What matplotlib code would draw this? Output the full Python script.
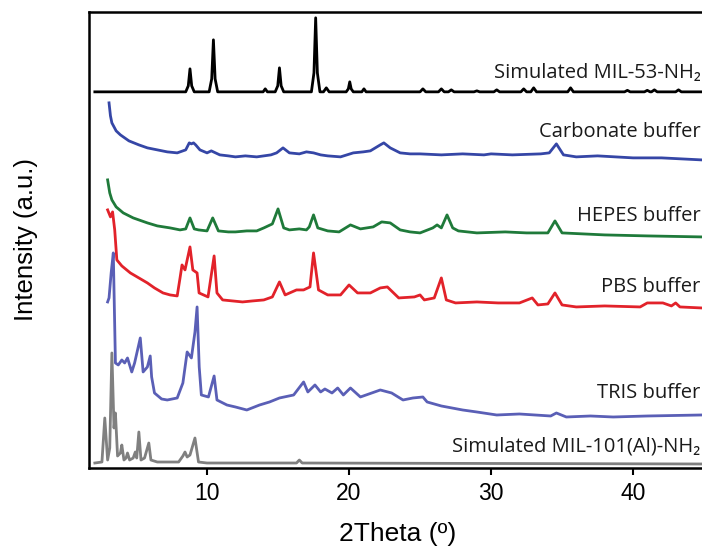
import matplotlib
matplotlib.use('Agg')
import matplotlib.pyplot as plt

# Values (2Theta in degrees, intensity in arbitrary units).
# Simulated MIL-53-NH2 (black)
mil53_x = [2.1, 8.5, 8.68, 8.8, 8.92, 9.1, 10.15, 10.33, 10.45, 10.57, 10.75, 13.95, 14.1, 14.25,
           14.8, 14.98, 15.1, 15.22, 15.4, 17.35, 17.53, 17.65, 17.77, 17.95, 18.2, 18.4, 18.6,
           19.8, 19.95, 20.05, 20.15, 20.3, 20.9, 21.05, 21.2, 25.0, 25.2, 25.4, 26.3, 26.5, 26.7,
           27.0, 27.2, 27.4, 28.8, 29.0, 29.2, 30.2, 30.4, 30.6, 32.1, 32.3, 32.5, 32.8, 33.0, 33.2,
           35.4, 35.6, 35.8, 39.4, 39.6, 39.8, 40.8, 41.0, 41.2, 41.3, 41.5, 41.7, 43.0, 43.2, 43.4, 45.5]
mil53_y = [376, 376, 382, 399, 382, 376, 376, 389, 428, 389, 376, 376, 379, 376,
           376, 382, 400, 382, 376, 376, 395, 450, 395, 376, 376, 380, 376,
           376, 379, 386, 379, 376, 376, 379, 376, 376, 379, 376, 376, 379, 376,
           376, 378, 376, 376, 377, 376, 376, 378, 376, 376, 379, 376, 376, 380, 376,
           376, 380, 376, 376, 377.5, 376, 376, 377.5, 376, 376, 378, 376, 376, 378, 376, 376]

# Carbonate buffer (dark blue)
carb_x = [3.1, 3.2, 3.3, 3.6, 3.9, 4.5, 5.2, 5.8, 6.5, 7.2, 7.9, 8.5, 8.75, 8.9, 9.05, 9.2, 9.5,
          10.0, 10.3, 10.6, 10.9, 11.5, 12.0, 12.7, 13.5, 14.0, 14.5, 14.9, 15.35, 15.8, 16.5,
          17.0, 17.5, 18.0, 18.5, 19.4, 20.3, 21.0, 21.5, 22.2, 22.45, 22.9, 23.6, 24.3, 25.0,
          26.5, 28.0, 29.5, 30.0, 31.5, 33.5, 34.1, 34.6, 35.1, 36.0, 37.5, 40.0, 42.0, 44.8]
carb_y = [365, 352, 345, 337, 333, 327, 323, 320, 318, 316, 315, 318, 325, 324, 325, 323, 318,
          315, 317, 315, 313, 312, 311, 312, 311, 312, 313, 315, 320, 315, 314,
          316, 315, 313, 312, 311, 315, 316, 317, 323, 325, 320, 315, 314, 314,
          313, 314, 313, 314, 313, 314, 315, 324, 313, 311, 312, 310, 310, 308]

# HEPES buffer (green)
hepes_x = [3.0, 3.15, 3.3, 3.6, 4.1, 4.8, 5.8, 6.5, 7.4, 8.1, 8.5, 8.8, 9.1, 9.4, 10.0, 10.4,
           10.8, 11.5, 12.0, 12.8, 13.5, 14.0, 14.6, 15.0, 15.4, 15.8, 16.5, 17.0, 17.2, 17.5,
           17.8, 18.5, 19.3, 20.1, 20.8, 21.7, 22.3, 22.9, 23.6, 24.3, 25.0, 25.9, 26.2, 26.5,
           26.9, 27.3, 27.7, 29.0, 31.0, 32.5, 34.0, 34.5, 35.0, 36.5, 38.0, 41.0, 44.8]
hepes_y = [288, 275, 268, 261, 255, 250, 245, 242, 240, 238, 239, 250, 239, 238, 237, 250,
           237, 236, 236, 237, 237, 240, 244, 259, 240, 238, 239, 238, 241, 253,
           240, 237, 236, 243, 239, 241, 246, 245, 238, 236, 235, 240, 243, 240,
           253, 240, 237, 235, 236, 235, 235, 247, 235, 234, 233, 232, 231]

# PBS buffer (red)
pbs_x = [3.0, 3.2, 3.35, 3.5, 3.65, 4.0, 4.6, 5.2, 5.8, 6.3, 6.9, 7.4, 7.9, 8.1, 8.24, 8.45,
         8.8, 9.0, 9.3, 9.44, 10.07, 10.5, 10.7, 11.1, 11.8, 12.5, 13.2, 14.0, 14.6, 15.1, 15.5,
         16.3, 16.8, 17.25, 17.5, 17.85, 18.5, 19.4, 20.0, 20.6, 21.5, 22.2, 22.7, 23.5, 24.6,
         25.0, 25.3, 26.0, 26.5, 26.85, 27.5, 29.0, 30.5, 32.0, 32.9, 33.3, 34.0, 34.5, 35.0,
         36.0, 38.0, 40.5, 41.0, 42.1, 42.7, 43.0, 43.3, 44.8]
pbs_y = [258, 251, 256, 238, 208, 202, 195, 190, 185, 180, 175, 173, 172, 190, 203, 198,
         221, 198, 195, 175, 171, 212, 175, 168, 167, 166, 167, 168, 171, 186, 173,
         178, 178, 181, 215, 178, 173, 173, 183, 175, 175, 180, 181, 170, 171,
         173, 168, 170, 190, 168, 165, 166, 165, 165, 170, 163, 164, 175, 163,
         161, 162, 161, 165, 165, 162, 165, 161, 160]

# TRIS buffer (violet blue)
tris_x = [3.0, 3.1, 3.25, 3.4, 3.55, 3.75, 4.0, 4.2, 4.4, 4.7, 4.9, 5.3, 5.5, 5.8, 6.0, 6.1,
          6.3, 6.8, 7.2, 7.9, 8.3, 8.6, 8.9, 9.15, 9.3, 9.45, 9.6, 10.1, 10.5, 10.7, 11.4, 12.0,
          12.8, 13.7, 14.4, 15.1, 16.1, 16.8, 17.1, 17.6, 18.0, 18.3, 18.8, 19.2, 19.6, 20.1,
          20.8, 21.8, 22.2, 23.0, 23.8, 24.5, 25.2, 25.5, 26.5, 28.0, 29.0, 30.4, 32.0, 34.2,
          34.6, 35.3, 37.0, 38.6, 41.0, 44.8]
tris_y = [166, 170, 195, 215, 105, 103, 108, 105, 110, 96, 105, 130, 96, 101, 112, 91,
          75, 69, 68, 70, 85, 116, 110, 136, 161, 101, 73, 71, 92, 68, 63, 61,
          58, 63, 66, 70, 73, 86, 76, 83, 76, 79, 75, 80, 73, 80,
          71, 76, 78, 75, 68, 70, 71, 66, 62, 58, 56, 53, 54, 52,
          55, 51, 52, 51, 52, 53]

# Simulated MIL-101(Al)-NH2 (grey)
mil101_x = [2.1, 2.6, 2.8, 3.0, 3.15, 3.3, 3.45, 3.55, 3.7, 3.9, 4.0, 4.15, 4.3, 4.4, 4.55, 4.8,
            4.95, 5.05, 5.2, 5.35, 5.6, 5.9, 6.05, 6.5, 8.0, 8.3, 8.45, 8.6, 8.8, 9.15, 9.4,
            10.0, 16.3, 16.5, 16.7, 45.5]
mil101_y = [5, 6, 50, 8, 20, 115, 40, 55, 12, 15, 23, 8, 10, 15, 8, 10,
            16, 10, 36, 8, 10, 25, 8, 6, 6, 12, 16, 11, 13, 30, 6,
            5, 5, 8, 5, 4]

labels = ['Simulated MIL-53-NH₂', 'Carbonate buffer', 'HEPES buffer', 'PBS buffer',
          'TRIS buffer', 'Simulated MIL-101(Al)-NH₂']
label_y = [395, 336, 252, 181, 75, 22]
colors = ['black', '#3546a6', '#1f7a3a', '#e2222a', '#5a5fb6', '#808080']

series = [(mil53_x, mil53_y), (carb_x, carb_y), (hepes_x, hepes_y),
          (pbs_x, pbs_y), (tris_x, tris_y), (mil101_x, mil101_y)]

fig = plt.figure(figsize=(7.02, 5.47), dpi=100)
ax = fig.add_axes([0.127, 0.1444, 0.88, 0.834])

for (x, y), c in zip(series, colors):
    ax.plot(x, y, color=c, lw=2.0, solid_joinstyle='round')

for text, ty in zip(labels, label_y):
    ax.text(44.75, ty, text, ha='right', va='center', fontsize=14.5,
            family=['Open Sans', 'DejaVu Sans'], color='#1a1a1a')

ax.set_xlim(1.7, 45.2)
ax.set_ylim(0, 456)
ax.set_xticks([10, 20, 30, 40])
ax.set_yticks([])
ax.tick_params(axis='x', direction='out', length=5, width=1.5, labelsize=16.5, pad=5)
for lab in ax.get_xticklabels():
    lab.set_family('Liberation Sans')
for s in ['left', 'bottom', 'top']:
    ax.spines[s].set_linewidth(1.8)
ax.spines['right'].set_visible(False)

ax.set_xlabel('2Theta (º)', fontsize=19, family='Liberation Sans', labelpad=12)
ax.set_ylabel('Intensity (a.u.)', fontsize=18.5, family='Liberation Sans')
ax.yaxis.set_label_coords(-0.083, 0.5)

fig.savefig('out.png', dpi=100)
